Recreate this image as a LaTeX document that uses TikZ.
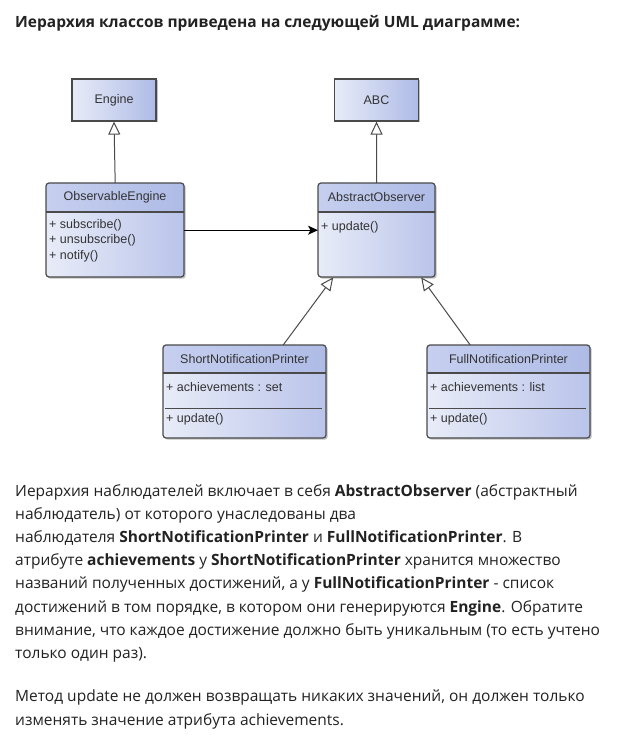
\documentclass[tikz,border=0pt]{standalone}
\usepackage{fontspec}
\setmainfont{Open Sans}
\newfontfamily\umlfont{Liberation Sans}
\usetikzlibrary{arrows.meta,shadows}
\definecolor{txt}{HTML}{222222}
\definecolor{umltxt}{HTML}{333333}
\definecolor{umlborder}{HTML}{4A4A4A}
\definecolor{bodyA}{HTML}{E8ECF8}
\definecolor{bodyB}{HTML}{BAC4EA}
\definecolor{headA}{HTML}{C6CFEF}
\definecolor{headB}{HTML}{AEBBE6}
\tikzset{
 classbody/.style={rectangle, rounded corners=3pt, inner sep=0pt, left color=bodyA, right color=bodyB,
   drop shadow={shadow xshift=1.5pt, shadow yshift=-1.5pt, opacity=0.35, fill=black!70}},
 plainbox/.style={rectangle, inner sep=0pt, left color=bodyA, right color=headB, draw=umlborder, line width=1.2pt,
   font=\umlfont\fontsize{12.5}{15}\selectfont, text=umltxt,
   drop shadow={shadow xshift=1.5pt, shadow yshift=-1.5pt, opacity=0.35, fill=black!70}},
 headfill/.style={left color=headA, right color=headB},
 umlline/.style={draw=umlborder, line width=1.2pt},
 umltitle/.style={font=\umlfont\fontsize{12.5}{15}\selectfont, text=umltxt, inner sep=0pt},
 umlattr/.style={font=\umlfont\fontsize{12.5}{15}\selectfont, text=umltxt, inner sep=0pt, anchor=west},
 para/.style={anchor=base west, inner sep=0pt, font=\fontsize{15.5}{23}\selectfont, text=txt},
 inherit/.style={draw=umlborder, line width=1pt, -{Triangle[open, length=13pt, width=12pt, line width=1pt]}},
 assoc/.style={draw=black, line width=1pt, -{Stealth[length=10pt, width=9pt, inset=2.5pt]}},
}
\newcommand\umlclass[7]{%
 \node[classbody, minimum width={#4-#2}, minimum height={#5-#3}, anchor=north west] (#1) at (#2,#3) {};
 \begin{scope}
  \clip[rounded corners=3pt] (#2,#3) rectangle (#4,#5);
  \fill[headfill] (#2,#3) rectangle (#4,#6);
 \end{scope}
 \draw[umlline] (#2,#6) -- (#4,#6);
 \draw[umlline, rounded corners=3pt] (#2,#3) rectangle (#4,#5);
 \node[umltitle] (#1-name) at ({(#2+#4)/2},{(#3+#6)/2}) {#7};
}
\begin{document}
\begin{tikzpicture}[x=1pt,y=-1pt]
\useasboundingbox[fill=white] (0,0) rectangle (643,735);

\node[anchor=base west, inner sep=0pt, font=\bfseries\fontsize{15.5}{18}\selectfont, text=txt] (title) at (15,28)
 {Иерархия классов приведена на следующей UML диаграмме:};

% simple classes
\node[plainbox, minimum width=84, minimum height=42] (eng) at (114,100) {Engine};
\node[plainbox, minimum width=84, minimum height=42] (abc) at (376.5,100) {ABC};

% classes with compartments
\umlclass{oe}{46}{183}{184}{277}{212}{ObservableEngine}
\node[umlattr] (oe-a1) at (49,225) {+ subscribe()};
\node[umlattr] (oe-a2) at (49,240.5) {+ unsubscribe()};
\node[umlattr] (oe-a3) at (49,256) {+ notify()};

\umlclass{ao}{318}{183}{435}{277}{212}{AbstractObserver}
\node[umlattr] (ao-a1) at (321,227) {+ update()};

\umlclass{snp}{163}{345}{326}{438}{373}{ShortNotificationPrinter}
\node[umlattr] (snp-a1) at (166,387) {+ achievements : set};
\draw[umlline, line width=1pt] (165,408) -- (322,408);
\node[umlattr] (snp-a2) at (166,419) {+ update()};

\umlclass{fnp}{427}{345}{590}{438}{373}{FullNotificationPrinter}
\node[umlattr] (fnp-a1) at (430,387) {+ achievements : list};
\draw[umlline, line width=1pt] (429,408) -- (586,408);
\node[umlattr] (fnp-a2) at (430,419) {+ update()};

% connectors
\draw[inherit] (oe.north) -- (eng.south);
\draw[inherit] (ao.north) -- (abc.south);
\draw[assoc] (oe.east) -- (ao.west);
\draw[inherit] ([xshift=38.5pt]snp.north) -- ([xshift=-43.5pt]ao.south);
\draw[inherit] ([xshift=-38.5pt]fnp.north) -- ([xshift=44.5pt]ao.south);

% text
\node[para] (p1) at (15,496) {Иерархия наблюдателей включает в себя \textbf{AbstractObserver} (абстрактный};
\node[para] (p2) at (15,519.2) {наблюдатель) от которого унаследованы два};
\node[para] (p3) at (15,542.4) {наблюдателя \textbf{ShortNotificationPrinter} и \textbf{FullNotificationPrinter}. В};
\node[para] (p4) at (15,565.6) {атрибуте \textbf{achievements} у \textbf{ShortNotificationPrinter} хранится множество};
\node[para] (p5) at (15,588.8) {названий полученных достижений, а у \textbf{FullNotificationPrinter} - список};
\node[para] (p6) at (15,612) {достижений в том порядке, в котором они генерируются \textbf{Engine}. Обратите};
\node[para] (p7) at (15,635.2) {внимание, что каждое достижение должно быть уникальным (то есть учтено};
\node[para] (p8) at (15,658.4) {только один раз).};
\node[para] (p9) at (15,701.8) {Метод update не должен возвращать никаких значений, он должен только};
\node[para] (p10) at (15,725) {изменять значение атрибута achievements.};
\end{tikzpicture}
\end{document}
